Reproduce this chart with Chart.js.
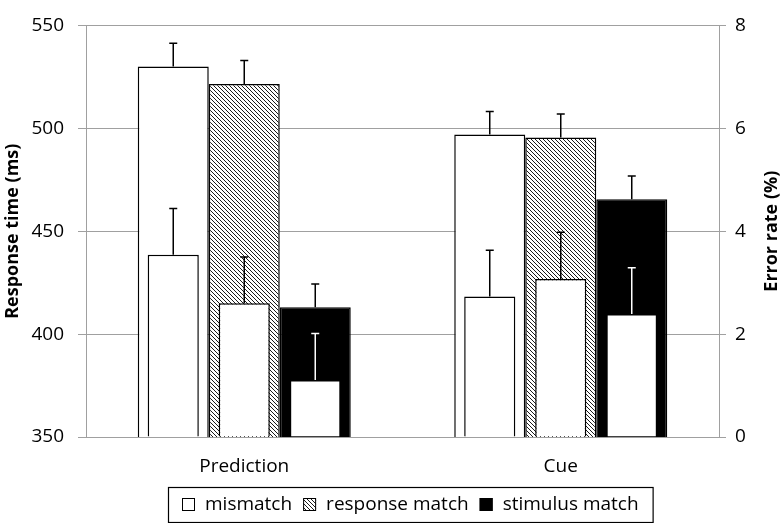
<!DOCTYPE html>
<html>
<head>
<meta charset="utf-8">
<script src="https://cdn.jsdelivr.net/npm/chart.js@4.4.1/dist/chart.umd.min.js"></script>
<style>
html, body { margin: 0; padding: 0; background: #fff; }
</style>
</head>
<body>
<canvas id="myChart" width="784" height="523"></canvas>
<script>
var categories = ['Prediction', 'Cue'];
var seriesNames = ['mismatch', 'response match', 'stimulus match'];
var stackIds = ['m', 'r', 's'];

// response time (ms), left axis
var rtMismatch = [530, 497];
var rtMismatchErr = [11.3, 11.2];
var rtResponse = [521.5, 495.5];
var rtResponseErr = [11.4, 11.4];
var rtStimulus = [413, 465.5];
var rtStimulusErr = [11.3, 11.3];

// error rate (%), right axis
var erMismatch = [3.54, 2.73];
var erMismatchErr = [0.9, 0.9];
var erResponse = [2.6, 3.07];
var erResponseErr = [0.9, 0.91];
var erStimulus = [1.11, 2.39];
var erStimulusErr = [0.9, 0.9];

var rtTicks = [350, 400, 450, 500, 550];
var erTicks = [0, 2, 4, 6, 8];

var leftTitle = 'Response time (ms)';
var rightTitle = 'Error rate (%)';

var gray = '#a0a0a0';
var fontFamily = 'Open Sans';

var ctx = document.getElementById('myChart').getContext('2d');

function makeHatch() {
    var c = document.createElement('canvas');
    c.width = 4; c.height = 4;
    var g = c.getContext('2d');
    g.fillStyle = '#fff';
    g.fillRect(0, 0, 4, 4);
    g.strokeStyle = '#000';
    g.lineWidth = 0.9;
    g.beginPath();
    g.moveTo(-1, -1); g.lineTo(5, 5);
    g.moveTo(-1, 3); g.lineTo(1, 5);
    g.moveTo(3, -1); g.lineTo(5, 1);
    g.stroke();
    return ctx.createPattern(c, 'repeat');
}
var hatch = makeHatch();
var fills = ['#fff', hatch, '#000'];

// RT bars and the narrower error-rate bars share a slot through the same stack id
function rtBar(i, data, errs) {
    return {
        label: seriesNames[i], data: data, errors: errs, errColor: '#000', stack: stackIds[i],
        backgroundColor: fills[i], borderColor: '#000', borderWidth: 1.5,
        yAxisID: 'y', categoryPercentage: 0.673, barPercentage: 1, order: 1
    };
}
function erBar(i, data, errs, errColor) {
    return {
        label: seriesNames[i] + ' error', data: data, errors: errs, errColor: errColor, stack: stackIds[i],
        backgroundColor: '#fff', borderColor: '#000', borderWidth: 1.5,
        yAxisID: 'y1', categoryPercentage: 0.673, barPercentage: 0.72, order: 0
    };
}

var errorBars = {
    id: 'errorBars',
    afterDatasetsDraw: function(chart) {
        var c = chart.ctx;
        chart.data.datasets.forEach(function(ds, i) {
            var meta = chart.getDatasetMeta(i);
            var yScale = chart.scales[ds.yAxisID];
            meta.data.forEach(function(bar, j) {
                var top = yScale.getPixelForValue(ds.data[j] + ds.errors[j]);
                c.save();
                c.strokeStyle = ds.errColor;
                c.lineWidth = 1.5;
                c.beginPath();
                c.moveTo(bar.x, bar.y);
                c.lineTo(bar.x, top);
                c.moveTo(bar.x - 4, top);
                c.lineTo(bar.x + 4, top);
                c.stroke();
                c.restore();
            });
        });
    }
};

// boxed legend under the axis + right axis title reading upward
var boxLegend = {
    id: 'boxLegend',
    afterDraw: function(chart) {
        var c = chart.ctx;
        c.save();
        c.font = '19px "' + fontFamily + '"';
        var sym = 13, gapText = 10, gapItem = 11, pad = 14;
        var total = pad * 2;
        seriesNames.forEach(function(n, i) {
            total += sym + gapText + c.measureText(n).width;
            if (i < seriesNames.length - 1) total += gapItem;
        });
        var left = 168, top = 487, h = 35;
        c.strokeStyle = '#000';
        c.lineWidth = 1.2;
        c.strokeRect(left + 0.5, top + 0.5, total, h);
        var x = left + pad;
        var base = 510;
        seriesNames.forEach(function(n, i) {
            c.fillStyle = fills[i];
            c.fillRect(x, base - 12, sym, sym);
            c.lineWidth = 1;
            c.strokeRect(x + 0.5, base - 11.5, sym - 1, sym - 1);
            x += sym + gapText;
            c.fillStyle = '#000';
            c.textBaseline = 'alphabetic';
            c.textAlign = 'left';
            c.fillText(n, x, base);
            x += c.measureText(n).width + gapItem;
        });

        var area = chart.chartArea;
        c.translate(772, (area.top + area.bottom) / 2);
        c.rotate(-Math.PI / 2);
        c.font = 'bold 18px "' + fontFamily + '"';
        c.textAlign = 'center';
        c.textBaseline = 'middle';
        c.fillText(rightTitle, 0, 0);
        c.restore();
    }
};

var myChart = new Chart(ctx, {
    type: 'bar',
    data: {
        labels: categories,
        datasets: [
            rtBar(0, rtMismatch, rtMismatchErr),
            rtBar(1, rtResponse, rtResponseErr),
            rtBar(2, rtStimulus, rtStimulusErr),
            erBar(0, erMismatch, erMismatchErr, '#000'),
            erBar(1, erResponse, erResponseErr, '#000'),
            erBar(2, erStimulus, erStimulusErr, '#fff')
        ]
    },
    options: {
        responsive: false,
        animation: false,
        devicePixelRatio: 1,
        layout: { padding: { left: 0, right: 0, top: 15, bottom: 40 } },
        plugins: { legend: { display: false }, tooltip: { enabled: false } },
        scales: {
            x: {
                grid: { display: false, drawTicks: false },
                border: { color: gray, width: 1 },
                ticks: { font: { family: fontFamily, size: 19 }, color: '#000', padding: 18 },
                afterFit: function(s) { s.height = 46; }
            },
            y: {
                position: 'left', min: 350, max: 550, stacked: false,
                afterBuildTicks: function(s) { s.ticks = rtTicks.map(function(v) { return { value: v }; }); },
                grid: { color: gray, lineWidth: 1, tickLength: 8 },
                border: { color: gray, width: 1 },
                ticks: { font: { family: fontFamily, size: 19 }, color: '#000', padding: 14 },
                title: { display: true, text: leftTitle, color: '#000', padding: { top: 2, bottom: 0 },
                         font: { family: fontFamily, size: 18, weight: 'bold' } },
                afterFit: function(s) { s.width = 86; }
            },
            y1: {
                position: 'right', min: 0, max: 8, stacked: false,
                afterBuildTicks: function(s) { s.ticks = erTicks.map(function(v) { return { value: v }; }); },
                grid: { drawOnChartArea: false, color: gray, lineWidth: 1, tickLength: 7 },
                border: { color: gray, width: 1 },
                ticks: { font: { family: fontFamily, size: 19 }, color: '#000', padding: 9 },
                afterFit: function(s) { s.width = 65; }
            }
        }
    },
    plugins: [errorBars, boxLegend]
});
</script>
</body>
</html>
